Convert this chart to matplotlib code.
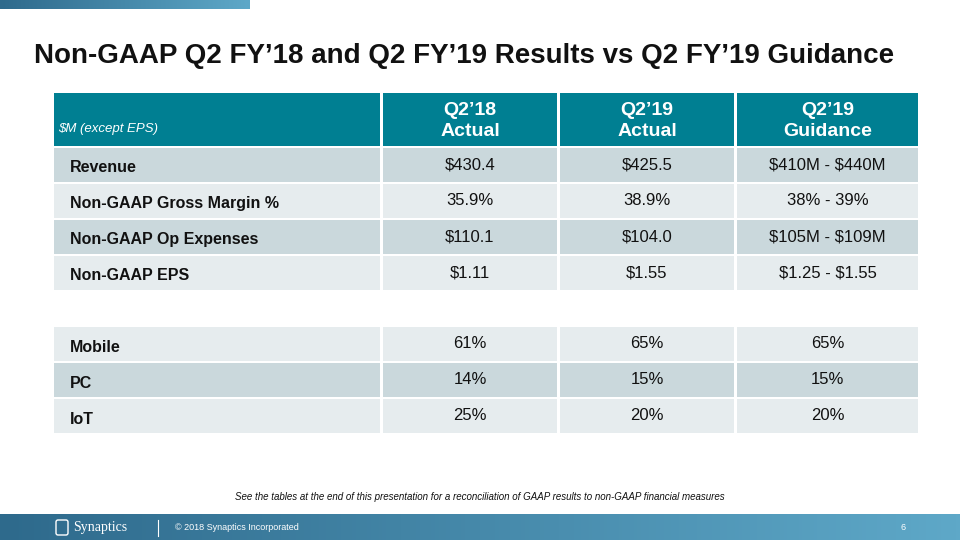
import numpy as np
import matplotlib.pyplot as plt
from matplotlib.patches import Rectangle, FancyBboxPatch
from matplotlib.colors import LinearSegmentedColormap

# dados da tabela
title = "Non-GAAP Q2 FY\u201918 and Q2 FY\u201919 Results vs Q2 FY\u201919 Guidance"
unit_label = "$M (except EPS)"
col_headers = ["Q2\u201918\nActual", "Q2\u201919\nActual", "Q2\u201919\nGuidance"]

fin_rows = ["Revenue", "Non-GAAP Gross Margin %", "Non-GAAP Op Expenses", "Non-GAAP EPS"]
q218_actual = ["$430.4", "35.9%", "$110.1", "$1.11"]
q219_actual = ["$425.5", "38.9%", "$104.0", "$1.55"]
q219_guidance = ["$410M - $440M", "38% - 39%", "$105M - $109M", "$1.25 - $1.55"]

mix_rows = ["Mobile", "PC", "IoT"]
mix_q218 = ["61%", "14%", "25%"]
mix_q219 = ["65%", "15%", "20%"]
mix_guid = ["65%", "15%", "20%"]

footnote = "See the tables at the end of this presentation for a reconciliation of GAAP results to non-GAAP financial measures"
copyright_txt = "\u00a9 2018 Synaptics Incorporated"
page_num = "6"

sans = "Liberation Sans"
teal = "#007f92"
dark_row = "#cad8dc"
light_row = "#e6ecee"

fig = plt.figure(figsize=(9.6, 5.4), dpi=100)
ax = fig.add_axes([0, 0, 1, 1])

# barras em gradiente
cmap = LinearSegmentedColormap.from_list("g", ["#2e6a8c", "#5ea8c8"])
grad = np.linspace(0, 1, 256).reshape(1, -1)
ax.imshow(grad, cmap=cmap, extent=[0, 250, 9, 0], aspect='auto')
ax.imshow(grad, cmap=cmap, extent=[0, 960, 540, 514], aspect='auto')
ax.set_xlim(0, 960)
ax.set_ylim(540, 0)
ax.axis('off')

ax.text(34, 56, title, fontsize=20, fontweight='bold', family=sans,
        color='#111111', va='center', ha='left', parse_math=False)

# colunas da tabela
label_x0, label_x1 = 54, 380
col_x = [(383, 557), (560, 734), (737, 918)]

# cabeçalho
ax.add_patch(Rectangle((label_x0, 93), label_x1 - label_x0, 53, color=teal, lw=0))
ax.text(label_x0 + 4, 129, unit_label, fontsize=9.5, style='italic', family=sans,
        color='white', va='center', ha='left', parse_math=False)
for (x0, x1), h in zip(col_x, col_headers):
    ax.add_patch(Rectangle((x0, 93), x1 - x0, 53, color=teal, lw=0))
    ax.text((x0 + x1) / 2, 121, h, fontsize=14, fontweight='bold', family=sans,
            color='white', va='center', ha='center', linespacing=1.3)


def draw_rows(labels, cols, y0, h, gap, first_dark):
    for i, lab in enumerate(labels):
        y = y0 + i * (h + gap)
        c = dark_row if (i % 2 == 0) == first_dark else light_row
        ax.add_patch(Rectangle((label_x0, y), label_x1 - label_x0, h, color=c, lw=0))
        ax.text(label_x0 + 16, y + h / 2 + 3, lab, fontsize=11.5, fontweight='bold',
                family=sans, color='#111111', va='center', ha='left')
        for (x0, x1), vals in zip(col_x, cols):
            ax.add_patch(Rectangle((x0, y), x1 - x0, h, color=c, lw=0))
            ax.text((x0 + x1) / 2, y + h / 2, vals[i], fontsize=12, family=sans,
                    color='#111111', va='center', ha='center', parse_math=False)


draw_rows(fin_rows, [q218_actual, q219_actual, q219_guidance], 148, 33.5, 2.5, True)
draw_rows(mix_rows, [mix_q218, mix_q219, mix_guid], 327, 34, 2, False)

ax.text(480, 497, footnote, fontsize=7, style='italic', family=sans,
        color='#111111', va='center', ha='center')

# rodapé
ax.add_patch(FancyBboxPatch((56, 520), 12, 15, boxstyle="round,pad=0,rounding_size=2",
                            fc='none', ec='white', lw=1))
ax.text(73, 528, "Synaptics", fontsize=10, family="Liberation Serif", color='white',
        va='center', ha='left')
ax.plot([158, 158], [520, 536], color='white', lw=0.8)
ax.text(175, 528, copyright_txt, fontsize=6.5, family=sans, color='white',
        va='center', ha='left')
ax.text(903, 528, page_num, fontsize=6.5, family=sans, color='white',
        va='center', ha='center')

fig.savefig('out.png', dpi=100)
